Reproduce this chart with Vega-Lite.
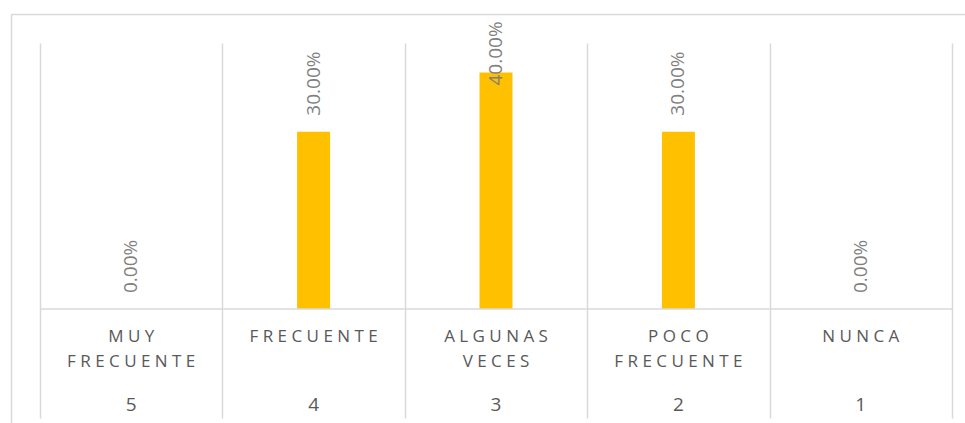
{
  "$schema": "https://vega.github.io/schema/vega-lite/v6.json",
  "width": 954,
  "height": 409,
  "padding": {"left": 11, "top": 14, "right": 0, "bottom": 0},
  "autosize": {"type": "none"},
  "background": "white",
  "config": {"view": {"stroke": null}, "font": "Open Sans"},
  "data": {
    "values": [
      {"cat": "MUY FRECUENTE", "num": 5, "value": 0},
      {"cat": "FRECUENTE", "num": 4, "value": 0.3},
      {"cat": "ALGUNAS VECES", "num": 3, "value": 0.4},
      {"cat": "POCO FRECUENTE", "num": 2, "value": 0.3},
      {"cat": "NUNCA", "num": 1, "value": 0}
    ]
  },
  "layer": [
    {
      "mark": {"type": "bar", "color": "#FFC000", "width": 33},
      "encoding": {
        "x": {
          "field": "cat", "type": "nominal", "sort": null,
          "scale": {
            "domain": ["MUY FRECUENTE", "FRECUENTE", "ALGUNAS VECES", "POCO FRECUENTE", "NUNCA"],
            "paddingInner": 0, "paddingOuter": 0.11513, "align": 0.6905
          },
          "axis": {"orient": "top", "domain": true, "domainColor": "#d9d9d9", "domainWidth": 1.5, "ticks": false, "labels": false, "grid": false, "title": null}
        },
        "y": {
          "field": "value", "type": "quantitative",
          "scale": {"domain": [-0.19286, 0.49906], "nice": false, "zero": false},
          "axis": {"orient": "left", "domain": true, "domainColor": "#d9d9d9", "domainWidth": 1.5, "ticks": false, "labels": false, "grid": false, "title": null}
        },
        "y2": {"datum": 0}
      }
    },
    {
      "mark": {"type": "rect", "fillOpacity": 0, "stroke": "#d9d9d9", "strokeWidth": 1.5},
      "encoding": {
        "x": {
          "field": "cat", "type": "nominal", "sort": null,
          "axis": {"orient": "bottom", "offset": -380, "domain": false, "labels": false, "ticks": true, "tickBand": "extent", "tickSize": 375, "tickColor": "#d9d9d9", "tickWidth": 1.5, "grid": false, "title": null}
        },
        "y": {"datum": 0, "type": "quantitative", "axis": null},
        "y2": {"datum": 0}
      }
    },
    {
      "transform": [{"filter": "datum.value < 0.35"}],
      "mark": {"type": "text", "angle": 270, "align": "left", "baseline": "middle", "dx": 16, "fontSize": 19, "color": "#7f7f7f"},
      "encoding": {
        "x": {
          "field": "cat", "type": "nominal", "sort": null,
          "axis": {
            "orient": "bottom", "offset": -114, "domain": false, "ticks": false, "grid": false, "title": null,
            "labelAngle": 0, "labelBaseline": "top", "labelPadding": 19, "labelFontSize": 17, "labelColor": "#595959",
            "labelLineHeight": 25, "labelOverlap": false, "labelLimit": 300, "labelFont": "Open Sans",
            "labelExpr": "split(join(split(datum.value, ''), ' '), '   ')"
          }
        },
        "y": {"field": "value", "type": "quantitative", "axis": null},
        "text": {"field": "value", "type": "quantitative", "format": ".2%"}
      }
    },
    {
      "transform": [{"filter": "datum.value >= 0.35"}],
      "mark": {"type": "text", "angle": 270, "align": "left", "baseline": "middle", "dx": -13, "fontSize": 19, "color": "#7f7f7f"},
      "encoding": {
        "x": {
          "field": "cat", "type": "nominal", "sort": null,
          "axis": {
            "orient": "bottom", "offset": -114, "domain": false, "ticks": false, "grid": false, "title": null,
            "labelAngle": 0, "labelBaseline": "top", "labelPadding": 86, "labelFontSize": 19, "labelColor": "#595959",
            "labelOverlap": false, "labelFont": "Open Sans",
            "labelExpr": "'' + (5 - indexof(['MUY FRECUENTE', 'FRECUENTE', 'ALGUNAS VECES', 'POCO FRECUENTE', 'NUNCA'], datum.value))"
          }
        },
        "y": {"field": "value", "type": "quantitative", "axis": null},
        "text": {"field": "value", "type": "quantitative", "format": ".2%"}
      }
    }
  ],
  "resolve": {"axis": {"x": "independent", "y": "independent"}}
}
